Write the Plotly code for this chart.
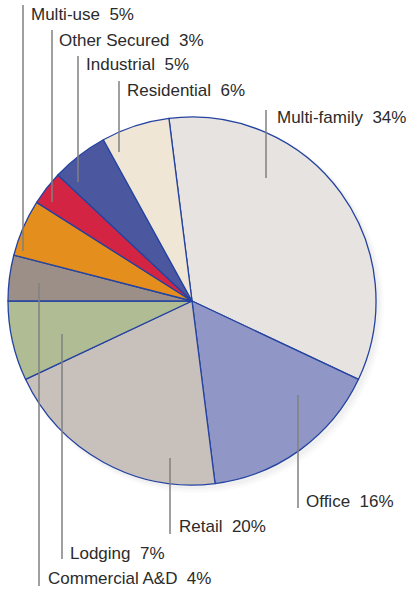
import plotly.graph_objects as go

# ---- data ----
categories = ["Multi-family", "Office", "Retail", "Lodging", "Commercial A&D",
              "Multi-use", "Other Secured", "Industrial", "Residential"]
shares = [34, 16, 20, 7, 4, 5, 3, 5, 6]

# ---- style ----
colors = ["#e7e3e1", "#9097c6", "#c8c0bb", "#b0bc94", "#9c8f88",
          "#e38e1d", "#d42443", "#4b58a0", "#f0e6d6"]

W, H = 407, 590
cx, cy, r = 192, 301, 184

# label layout (pixel coordinates): line x, line y0, line y1, text x, text y (cap centre)
label_layout = {
    "Multi-family":   (266, 110, 178, 275, 117),
    "Office":         (298, 395, 508, 304, 501),
    "Retail":         (170, 458, 534, 177, 526),
    "Lodging":        (62, 334, 559, 68, 553),
    "Commercial A&D": (39, 283, 586, 46, 578),
    "Multi-use":      (23, 5, 251, 29, 14),
    "Other Secured":  (52, 30, 202, 57, 40),
    "Industrial":     (78, 56, 182, 84, 64),
    "Residential":    (119, 81, 152, 125, 90),
}

fig = go.Figure()

# faint, soft shadow (a few stacked translucent circles)
for k, a in [(8, 0.015), (6, 0.02), (4, 0.025)]:
    fig.add_shape(type="circle", xref="x", yref="y",
                  x0=cx - r + 2, x1=cx + r + k, y0=cy - r + 2, y1=cy + r + k,
                  fillcolor=f"rgba(0,0,0,{a})", line=dict(width=0), layer="below")

fig.add_trace(go.Pie(
    labels=categories, values=shares, sort=False, direction="clockwise",
    rotation=-7.2, textinfo="none", hoverinfo="label+percent",
    marker=dict(colors=colors, line=dict(color="#2443a0", width=1.3)),
    domain=dict(x=[(cx - r) / W, (cx + r) / W],
                y=[1 - (cy + r) / H, 1 - (cy - r) / H]),
    showlegend=False,
))

for cat, val in zip(categories, shares):
    lx, y0, y1, tx, ty = label_layout[cat]
    fig.add_shape(type="line", xref="x", yref="y", x0=lx, x1=lx, y0=y0, y1=y1,
                  line=dict(color="#808080", width=1.5), layer="above")
    fig.add_annotation(x=tx, y=ty, xref="x", yref="y", xanchor="left", yanchor="middle",
                       text=f"{cat}\u00a0\u00a0{val}%", showarrow=False,
                       font=dict(family="Liberation Sans, Arial, sans-serif",
                                 size=17, color="#2b2b2b"))

fig.update_layout(
    width=W, height=H, margin=dict(l=0, r=0, t=0, b=0),
    paper_bgcolor="white", plot_bgcolor="rgba(0,0,0,0)",
    xaxis=dict(range=[0, W], visible=False, fixedrange=True),
    yaxis=dict(range=[H, 0], visible=False, fixedrange=True),
)

fig.write_html("out.html", config={"displayModeBar": False},
               post_script="document.body.style.margin='0';document.body.style.overflow='hidden';")
